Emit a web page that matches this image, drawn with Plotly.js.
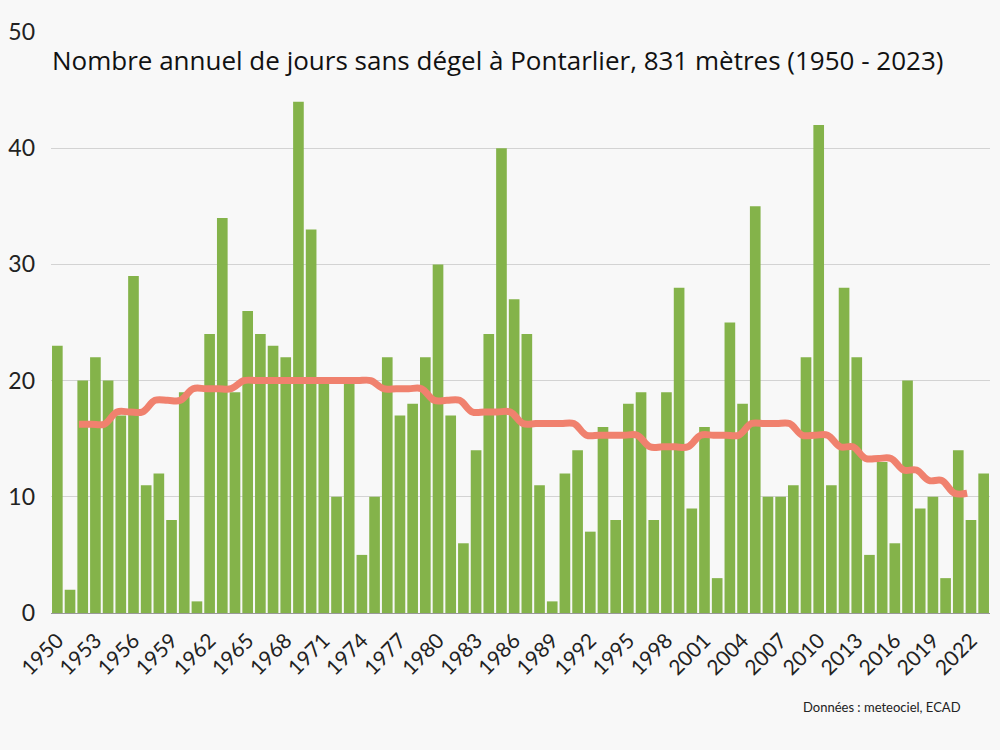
<!DOCTYPE html>
<html>
<head>
<meta charset="utf-8">
<script src="https://cdn.plot.ly/plotly-3.0.1.min.js"></script>
<style>
html,body{margin:0;padding:0;background:#f8f8f8;}
#chart{width:1000px;height:750px;}
</style>
</head>
<body>
<div id="chart"></div>
<script>
var years = [];
for (var y = 1950; y <= 2023; y++) years.push(y);

var frostDays = [
  23, 2, 20, 22, 20, 17, 29, 11, 12, 8,
  19, 1, 24, 34, 19, 26, 24, 23, 22, 44,
  33, 20, 10, 20, 5, 10, 22, 17, 18, 22,
  30, 17, 6, 14, 24, 40, 27, 24, 11, 1,
  12, 14, 7, 16, 8, 18, 19, 8, 19, 28,
  9, 16, 3, 25, 18, 35, 10, 10, 11, 22,
  42, 11, 28, 22, 5, 13, 6, 20, 9, 10,
  3, 14, 8, 12
];

var avgYears = [];
for (var a = 1952; a <= 2022; a++) avgYears.push(a);

var movingAvg = [
  16.25, 16.25, 16.25,
  17.3, 17.3, 17.3,
  18.3, 18.3, 18.3,
  19.3, 19.3, 19.3, 19.3,
  20, 20, 20, 20, 20, 20, 20, 20, 20, 20, 20,
  19.3, 19.3, 19.3, 19.3,
  18.3, 18.3, 18.3,
  17.3, 17.3, 17.3, 17.3,
  16.3, 16.3, 16.3, 16.3, 16.3,
  15.3, 15.3, 15.3, 15.3, 15.3,
  14.3, 14.3, 14.3, 14.3,
  15.3, 15.3, 15.3, 15.3,
  16.3, 16.3, 16.3, 16.3,
  15.3, 15.3, 15.3,
  14.3, 14.3,
  13.3, 13.3, 13.3,
  12.3, 12.3,
  11.4, 11.4,
  10.3, 10.3
];

var bars = {
  type: 'bar',
  x: years,
  y: frostDays,
  marker: {color: '#84b34a', line: {width: 0}},
  hoverinfo: 'x+y'
};
var line = {
  type: 'scatter',
  mode: 'lines',
  x: avgYears,
  y: movingAvg,
  xaxis: 'x2',
  line: {color: '#f0816e', width: 7, shape: 'spline', smoothing: 1}
};

var shift = 0.3;
var L = 51, R = 990, T = 32, B = 613;
var layout = {
  width: 1000,
  height: 750,
  paper_bgcolor: '#f8f8f8',
  plot_bgcolor: '#f8f8f8',
  margin: {l: L, r: 1000 - R, t: T, b: 750 - B},
  showlegend: false,
  bargap: 0.16,
  font: {family: 'Lato, sans-serif', color: '#222'},
  title: {
    text: 'Nombre annuel de jours sans dégel à Pontarlier, 831 mètres (1950 - 2023)',
    font: {family: '"Open Sans", sans-serif', size: 26, color: '#111', weight: 500},
    x: 52 / 1000, xanchor: 'left', xref: 'container',
    y: 1 - 61 / 750, yanchor: 'middle', yref: 'container'
  },
  xaxis: {
    range: [1949.5, 2023.5],
    tickmode: 'linear', tick0: 1950, dtick: 3,
    tickangle: -45,
    tickfont: {size: 21, color: '#222'},
    showgrid: false,
    zeroline: false,
    showline: true, linecolor: '#999', linewidth: 1,
    ticks: '', ticklen: 0,
    ticklabelstandoff: 6
  },
  xaxis2: {
    overlaying: 'x',
    range: [1949.5 + shift, 2023.5 + shift],
    visible: false
  },
  yaxis: {
    range: [0, 50],
    dtick: 10,
    tickfont: {size: 23, color: '#222'},
    gridcolor: '#d3d3d3', gridwidth: 1,
    zeroline: false,
    ticks: '', ticklen: 0,
    ticklabelstandoff: 15,
    automargin: false
  },
  annotations: [{
    text: 'Données : meteociel, ECAD',
    xref: 'paper', yref: 'paper',
    x: (963 - L) / (R - L),
    y: (B - 707) / (B - T),
    xanchor: 'right', yanchor: 'middle',
    showarrow: false,
    font: {family: 'Lato, sans-serif', size: 13, color: '#222'}
  }]
};

Plotly.newPlot('chart', [bars, line], layout, {displayModeBar: false, staticPlot: true});
</script>
</body>
</html>
